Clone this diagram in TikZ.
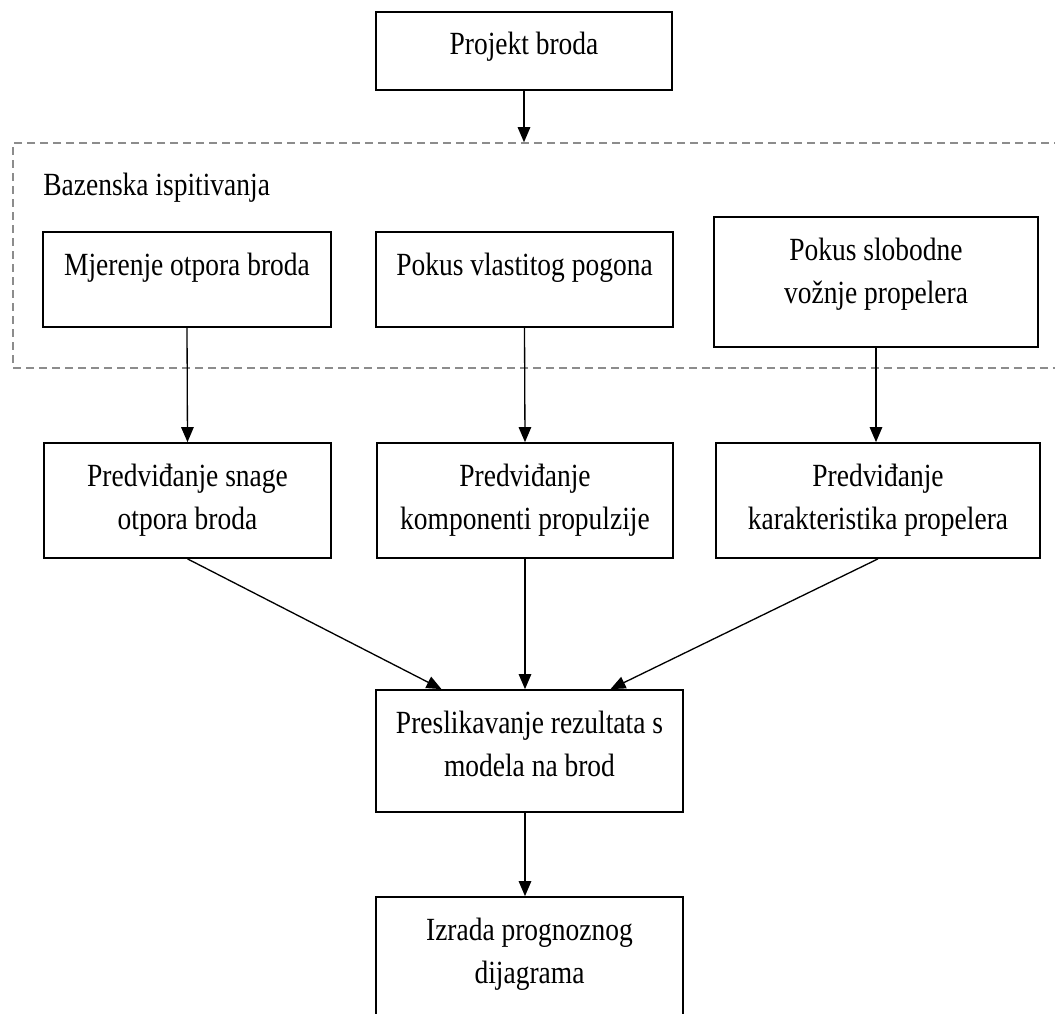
\documentclass[tikz,border=0pt]{standalone}
\usepackage{fontspec}
\setmainfont{Liberation Serif}[FakeStretch=0.85]
\usepackage{tikz}
\usetikzlibrary{positioning, arrows.meta}

\newcommand{\boxlines}[3]{\parbox[c][#2][t]{#1}{\centering\rule{0pt}{0.86cm}#3}}

\tikzset{
    stage/.style={draw=black, line width=1pt, inner sep=0pt, font=\fontsize{18.4}{24.5}\selectfont},
    arr/.style={-{Triangle[length=0.3cm, width=0.25cm]}, line width=0.75pt}
}

\begin{document}
\begin{tikzpicture}[x=0.02cm, y=-0.02cm]
            \useasboundingbox (0,0) rectangle (1055,1014);
            \node[draw=black!45, dashed, dash pattern=on 0.16cm off 0.1cm, line width=0.9pt,
                  inner sep=0pt, minimum width=21.24cm, minimum height=4.5cm] (bazen) at (544,255.5) {};
            \node[anchor=base west, inner sep=0pt, font=\fontsize{18.4}{24.5}\selectfont] (bazenlbl) at (43,195) {Bazenska ispitivanja};

            \node[stage] (proj) at (524,51) {\boxlines{5.92cm}{1.56cm}{Projekt broda}};
            \node[stage] (mjer) at (187,279.5) {\boxlines{5.76cm}{1.9cm}{Mjerenje otpora broda}};
            \node[stage] (vlast) at (524.5,279.5) {\boxlines{5.94cm}{1.9cm}{Pokus vlastitog pogona}};
            \node[stage] (slob) at (876,282) {\boxlines{6.48cm}{2.6cm}{Pokus slobodne\\vožnje propelera}};
            \node[stage] (snaga) at (187.5,500.5) {\boxlines{5.74cm}{2.3cm}{Predviđanje snage\\otpora broda}};
            \node[stage] (komp) at (525,500.5) {\boxlines{5.92cm}{2.3cm}{Predviđanje\\komponenti propulzije}};
            \node[stage] (karak) at (878,500.5) {\boxlines{6.48cm}{2.3cm}{Predviđanje\\karakteristika propelera}};
            \node[stage] (presl) at (529.5,751) {\boxlines{6.14cm}{2.44cm}{Preslikavanje rezultata s\\modela na brod}};
            \node[stage] (izrada) at (529.5,962) {\boxlines{6.14cm}{2.6cm}{Izrada prognoznog\\dijagrama}};

            \draw[arr] (proj.south) -- (proj.south |- bazen.north);
            \draw[arr] (mjer.south) -- (snaga.north);
            \draw[arr] (vlast.south) -- (komp.north);
            \draw[arr] (slob.south) -- (slob.south |- karak.north);
            \draw[arr] (snaga.south) -- ([xshift=-1.76cm]presl.north);
            \draw[arr] (komp.south) -- (komp.south |- presl.north);
            \draw[arr] (karak.south) -- ([xshift=1.62cm]presl.north);
            \draw[arr] (komp.south |- presl.south) -- (komp.south |- izrada.north);
        \end{tikzpicture}
\end{document}
